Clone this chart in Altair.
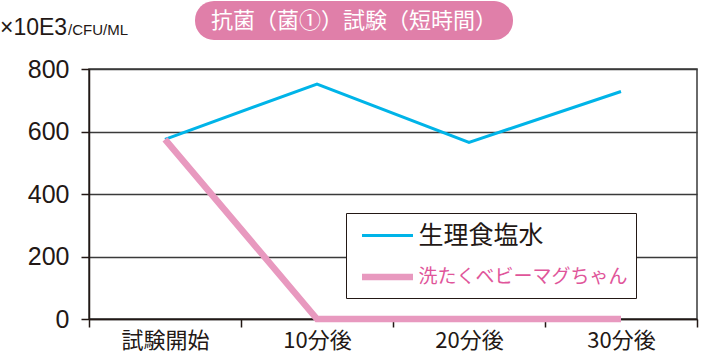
import altair as alt
import pandas as pd

times = ["試験開始", "10分後", "20分後", "30分後"]
series_names = ["生理食塩水", "洗たくベビーマグちゃん"]
saline = [575, 752, 565, 728]
babymag = [575, 0, 0, 0]
y_ticks = [0, 200, 400, 600, 800]

rows = []
for t, v in zip(times, saline):
    rows.append({"time": t, "series": series_names[0], "value": v})
for t, v in zip(times, babymag):
    rows.append({"time": t, "series": series_names[1], "value": v})
df = pd.DataFrame(rows)

JP = "Noto Sans CJK JP"
NUM = "Liberation Sans"
INK = "#231815"

legend_kw = dict(
    title=None, orient="none", legendX=257, legendY=144,
    symbolType="M-2,0H2", symbolSize=650, symbolOffset=17.5,
    labelFont=JP, labelLimit=400, labelBaseline="middle",
    labelFontSize={"expr": "datum.label == '洗たくベビーマグちゃん' ? 19 : 25"},
    labelColor={"expr": "datum.label == '洗たくベビーマグちゃん' ? '#e0559a' : '#231815'"},
    rowPadding=12, labelOffset=15,
    strokeColor=INK, fillColor="white", padding=8,
)

lines = alt.Chart(df).mark_line(strokeCap="butt", strokeJoin="miter").encode(
    x=alt.X("time:N", sort=times, title=None,
            scale=alt.Scale(paddingInner=0, paddingOuter=0),
            axis=alt.Axis(labelAngle=0, labelFont=JP, labelFontSize=22, labelColor=INK,
                          labelPadding=3, tickBand="extent", tickSize=8, tickColor=INK,
                          tickWidth=1.5, domainColor=INK, domainWidth=1.5, grid=False)),
    y=alt.Y("value:Q", title=None,
            scale=alt.Scale(domain=[0, 800], nice=False),
            axis=alt.Axis(values=y_ticks, labelFont=NUM, labelFontSize=25, labelColor=INK,
                          labelPadding=12, tickSize=8, tickColor=INK, tickWidth=1.5,
                          domainColor=INK, domainWidth=1.5,
                          grid=True, gridColor="#3a3a3a", gridWidth=1.5)),
    color=alt.Color("series:N", sort=series_names,
                    scale=alt.Scale(domain=series_names, range=["#00b4e8", "#e899bf"]),
                    legend=alt.Legend(**legend_kw)),
    strokeWidth=alt.StrokeWidth("series:N", sort=series_names,
                                scale=alt.Scale(domain=series_names, range=[3, 6.5]),
                                legend=alt.Legend(**legend_kw)),
)

pill = alt.Chart(pd.DataFrame({"t": ["抗菌（菌①）試験（短時間）"]})).mark_rect(
    color="#e07fa9", cornerRadius=19, clip=False
).encode(x=alt.value(106), x2=alt.value(424), y=alt.value(-68), y2=alt.value(-29))

title_text = alt.Chart(pd.DataFrame({"t": ["抗菌（菌①）試験（短時間）"]})).mark_text(
    font=JP, fontSize=22, color="white", align="center", baseline="middle", clip=False
).encode(x=alt.value(265), y=alt.value(-48), text="t:N")

unit_big = alt.Chart(pd.DataFrame({"t": ["×10E3"]})).mark_text(
    font=NUM, fontSize=23, color=INK, align="left", baseline="alphabetic", clip=False
).encode(x=alt.value(-89), y=alt.value(-34), text="t:N")

unit_small = alt.Chart(pd.DataFrame({"t": ["/CFU/ML"]})).mark_text(
    font=NUM, fontSize=15, color=INK, align="left", baseline="alphabetic", clip=False
).encode(x=alt.value(-21), y=alt.value(-34), text="t:N")

chart = alt.layer(lines, pill, title_text, unit_big, unit_small).properties(
    width=608, height=250,
    padding={"left": 89, "top": 69, "right": 4, "bottom": 35},
    autosize=alt.AutoSizeParams(type="none"),
).configure_view(stroke="#3a3a3a", strokeWidth=1.5)

chart.save("out.html", embed_options={"renderer": "svg", "actions": False})
